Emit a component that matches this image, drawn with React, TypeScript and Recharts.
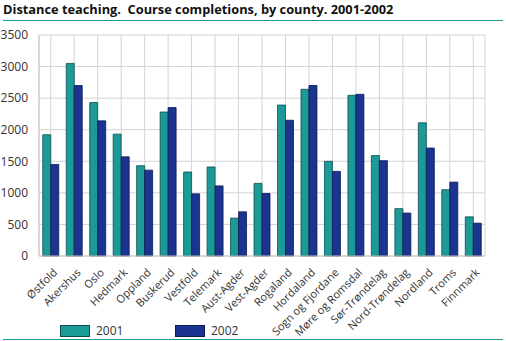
import React from 'react';
import {
  BarChart,
  Bar,
  XAxis,
  YAxis,
  CartesianGrid,
} from 'recharts';

const counties = [
  'Østfold', 'Akershus', 'Oslo', 'Hedmark', 'Oppland', 'Buskerud', 'Vestfold',
  'Telemark', 'Aust-Agder', 'Vest-Agder', 'Rogaland', 'Hordaland',
  'Sogn og Fjordane', 'Møre og Romsdal', 'Sør-Trøndelag', 'Nord-Trøndelag',
  'Nordland', 'Troms', 'Finnmark',
];

const values2001 = [
  1920, 3050, 2430, 1930, 1430, 2280, 1330, 1410, 600, 1150, 2390, 2640,
  1500, 2545, 1590, 750, 2110, 1050, 620,
];

const values2002 = [
  1450, 2700, 2140, 1570, 1360, 2350, 985, 1110, 700, 990, 2150, 2700,
  1340, 2560, 1510, 680, 1710, 1170, 520,
];

const yTicks = [0, 500, 1000, 1500, 2000, 2500, 3000, 3500];

const series = [
  { key: 'y2001', name: '2001', fill: '#1b9a98', stroke: '#0d4f4e' },
  { key: 'y2002', name: '2002', fill: '#1b348f', stroke: '#0b1a55' },
];

const data = counties.map((county, i) => ({
  county,
  y2001: values2001[i],
  y2002: values2002[i],
}));

const FONT = '"Open Sans", "Noto Sans", sans-serif';
const TEAL_LINE = '#1a9c95';

// rotated county labels, end anchored just right of the tick
function CountyTick({ x, y, payload }: any) {
  const tx = x + 4;
  const ty = y + 6;
  return (
    <text
      x={tx}
      y={ty}
      transform={`rotate(-45, ${tx}, ${ty})`}
      textAnchor="end"
      dominantBaseline="central"
      fontSize={11}
      fontFamily={FONT}
      fill="#333"
    >
      {payload.value}
    </text>
  );
}

export default function App() {
  return (
    <div
      style={{
        position: 'absolute',
        left: 0,
        top: 0,
        width: 506,
        height: 341,
        background: '#fff',
        fontFamily: FONT,
      }}
    >
      <div
        style={{
          position: 'absolute',
          left: 3,
          top: 0,
          fontSize: 12.8,
          fontWeight: 700,
          color: '#111',
          whiteSpace: 'nowrap',
        }}
      >
        Distance teaching.&nbsp; Course completions, by county. 2001-2002
      </div>
      <div
        style={{
          position: 'absolute',
          left: 3,
          top: 20,
          width: 500,
          height: 1,
          background: TEAL_LINE,
        }}
      />
      <BarChart
        width={506}
        height={341}
        data={data}
        margin={{ top: 35, right: 21, bottom: 0, left: 0 }}
        barCategoryGap="16%"
        barGap={0}
      >
        <CartesianGrid stroke="#d4d4d4" strokeWidth={1} />
        <XAxis
          dataKey="county"
          interval={0}
          height={85}
          tick={<CountyTick />}
          tickLine={false}
          axisLine={{ stroke: '#c8c8c8' }}
        />
        <YAxis
          width={39}
          domain={[0, 3500]}
          ticks={yTicks}
          interval={0}
          tickLine={false}
          axisLine={{ stroke: '#c8c8c8' }}
          tick={{ fontSize: 12, fill: '#333', fontFamily: FONT }}
          tickMargin={5}
        />
        <YAxis
          yAxisId="right"
          orientation="right"
          width={0}
          domain={[0, 3500]}
          tick={false}
          tickLine={false}
          axisLine={{ stroke: '#d4d4d4' }}
        />
        {series.map((s) => (
          <Bar
            key={s.key}
            dataKey={s.key}
            name={s.name}
            fill={s.fill}
            stroke={s.stroke}
            strokeWidth={0.8}
            isAnimationActive={false}
          />
        ))}
      </BarChart>
      {series.map((s, i) => (
        <div
          key={s.key}
          style={{
            position: 'absolute',
            left: 60 + i * 115,
            top: 322,
            display: 'flex',
            alignItems: 'center',
            fontSize: 12,
            color: '#333',
          }}
        >
          <span
            style={{
              display: 'inline-block',
              width: 28,
              height: 10,
              background: s.fill,
              border: `0.5px solid ${s.stroke}`,
              marginRight: 6,
            }}
          />
          {s.name}
        </div>
      ))}
      <div
        style={{
          position: 'absolute',
          left: 3,
          top: 339,
          width: 500,
          height: 1,
          background: TEAL_LINE,
        }}
      />
    </div>
  );
}
